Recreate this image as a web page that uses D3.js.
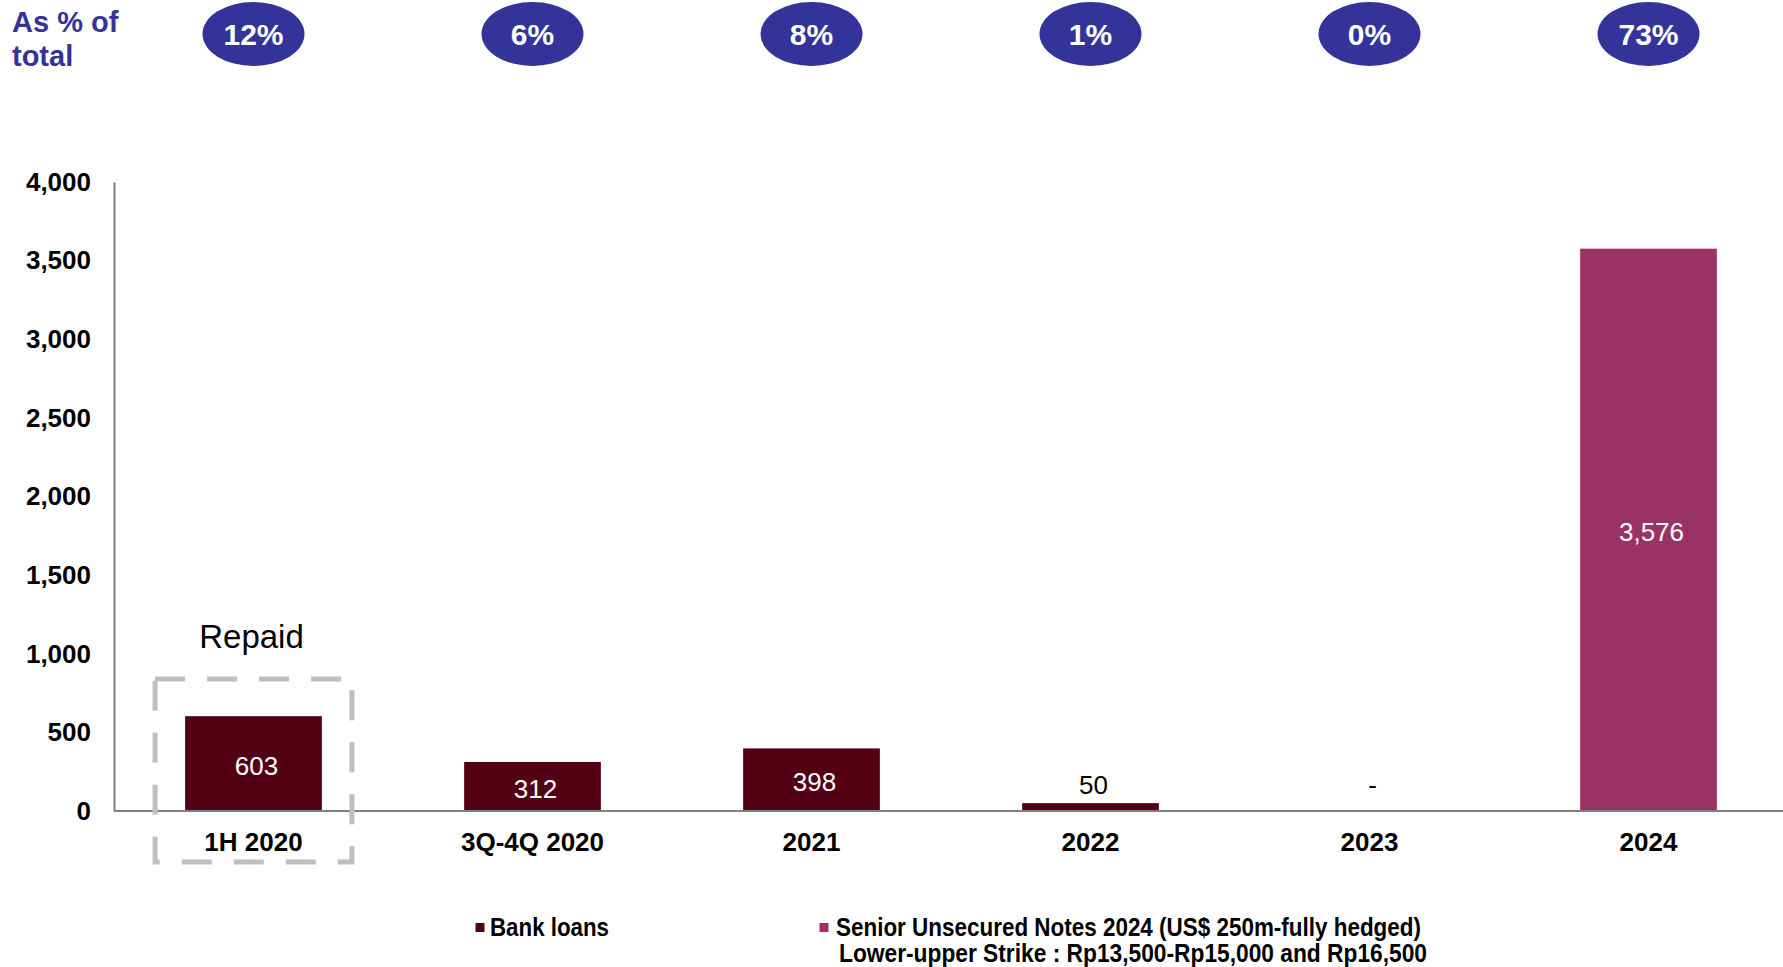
<!DOCTYPE html>
<html>
<head>
<meta charset="utf-8">
<script src="https://cdn.jsdelivr.net/npm/d3@7"></script>
<style>
  html, body { margin: 0; padding: 0; background: #fff; }
  svg { display: block; }
</style>
</head>
<body>
<svg id="chart" width="1783" height="967"></svg>
<script>
// ---- data ----
const categories = ["1H 2020", "3Q-4Q 2020", "2021", "2022", "2023", "2024"];
const bankLoans = [603, 312, 398, 50, 0, 0];
const seniorNotes = [0, 0, 0, 0, 0, 3576];
const shareOfTotal = ["12%", "6%", "8%", "1%", "0%", "73%"];
const valueLabels = ["603", "312", "398", "50", "-", "3,576"];
const yTicks = [0, 500, 1000, 1500, 2000, 2500, 3000, 3500, 4000];
const seriesNames = ["Bank loans", "Senior Unsecured Notes 2024 (US$ 250m-fully hedged)"];
const seriesNote = "Lower-upper Strike : Rp13,500-Rp15,000 and Rp16,500";
const repaidLabel = "Repaid";
const shareTitle = ["As % of", "total"];

const colors = { bank: "#540014", notes: "#993366", bubble: "#333399", axis: "#808080", dash: "#bfbfbf" };

const svg = d3.select("#chart");
const W = 1783;

const x = d3.scaleBand().domain(categories).range([114, 1788]).paddingInner(0.51).paddingOuter(0.255);
const y = d3.scaleLinear().domain([0, 4000]).range([811, 182]);

const narrow = "'Liberation Sans Narrow', 'Arial Narrow', 'Liberation Sans', Arial, sans-serif";
const sans = "'Liberation Sans', Arial, Helvetica, sans-serif";

// ---- y axis ----
const yAxis = svg.append("g").attr("transform", "translate(114,0)")
  .call(d3.axisLeft(y).tickValues(yTicks).tickSize(0).tickSizeOuter(0).tickPadding(23).tickFormat(d3.format(",")));
yAxis.select(".domain").attr("stroke", colors.axis).attr("stroke-width", 2);
yAxis.selectAll("text").attr("font-family", sans).attr("font-size", 26).attr("font-weight", "bold").attr("fill", "#000");

// ---- bars ----
const rows = categories.map((c, i) => ({ c, bank: bankLoans[i], notes: seniorNotes[i], label: valueLabels[i] }));

svg.append("g").selectAll("rect.bank").data(rows.filter(d => d.bank > 0)).join("rect")
  .attr("x", d => x(d.c)).attr("width", x.bandwidth())
  .attr("y", d => y(d.bank)).attr("height", d => y(0) - y(d.bank))
  .attr("fill", colors.bank);

svg.append("g").selectAll("rect.notes").data(rows.filter(d => d.notes > 0)).join("rect")
  .attr("x", d => x(d.c)).attr("width", x.bandwidth())
  .attr("y", d => y(d.bank + d.notes)).attr("height", d => y(d.bank) - y(d.bank + d.notes))
  .attr("fill", colors.notes);

// ---- x axis ----
const xAxis = svg.append("g").attr("transform", "translate(0,811)")
  .call(d3.axisBottom(x).tickSize(0).tickSizeOuter(0).tickPadding(22));
xAxis.select(".domain").remove();
svg.append("line").attr("x1", 114).attr("x2", W).attr("y1", y(0)).attr("y2", y(0))
  .attr("stroke", colors.axis).attr("stroke-width", 2);
xAxis.selectAll("text").attr("font-family", sans).attr("font-size", 26).attr("font-weight", "bold").attr("fill", "#000");

// ---- value labels ----
svg.append("g").selectAll("text").data(rows).join("text")
  .attr("x", d => x(d.c) + x.bandwidth() / 2 + 3)
  .attr("y", d => {
    const tot = d.bank + d.notes;
    return tot >= 200 ? (y(tot) + y(0)) / 2 + 2 : y(0) - 26;
  })
  .attr("dy", "0.35em")
  .attr("text-anchor", "middle")
  .attr("font-family", sans).attr("font-size", 26)
  .attr("fill", d => (d.bank + d.notes) >= 200 ? "#fff" : "#000")
  .text(d => d.label);

// ---- share bubbles ----
const bub = svg.append("g").selectAll("g").data(categories.map((c, i) => ({ c, s: shareOfTotal[i] }))).join("g")
  .attr("transform", d => `translate(${x(d.c) + x.bandwidth() / 2},34)`);
bub.append("ellipse").attr("rx", 51).attr("ry", 32).attr("fill", colors.bubble);
bub.append("text").attr("text-anchor", "middle").attr("dy", "0.36em")
  .attr("font-family", narrow).attr("font-weight", "bold").attr("font-size", 30).attr("fill", "#fff")
  .text(d => d.s);

// ---- "As % of total" ----
svg.append("text").attr("x", 12).attr("y", 32)
  .attr("font-family", sans).attr("font-weight", "bold").attr("font-size", 29).attr("fill", colors.bubble)
  .selectAll("tspan").data(shareTitle).join("tspan")
  .attr("x", 12).attr("dy", (d, i) => i === 0 ? 0 : 34).text(d => d);

// ---- repaid box ----
const c0 = x(categories[0]) + x.bandwidth() / 2;
const half = x.bandwidth() * 0.72;
svg.append("rect").attr("x", c0 - half).attr("y", 679).attr("width", 2 * half).attr("height", 862 - 679)
  .attr("fill", "none").attr("stroke", colors.dash).attr("stroke-width", 5).attr("stroke-dasharray", "30,22");
svg.append("text").attr("x", c0 - 2).attr("y", 648).attr("text-anchor", "middle")
  .attr("font-family", sans).attr("font-size", 33).attr("fill", "#000").text(repaidLabel);

// ---- legend ----
const leg = svg.append("g");
const legItems = [
  { name: seriesNames[0], color: colors.bank, mx: 480, tx: 490, w: 119 },
  { name: seriesNames[1], color: colors.notes, mx: 824, tx: 836, w: 585 }
];
legItems.forEach(it => {
  leg.append("rect").attr("x", it.mx - 4.5).attr("y", 923).attr("width", 9).attr("height", 9).attr("fill", it.color);
  leg.append("text").attr("x", it.tx).attr("y", 936)
    .attr("font-family", narrow).attr("font-weight", "bold").attr("font-size", 25).attr("fill", "#000")
    .attr("textLength", it.w).attr("lengthAdjust", "spacingAndGlyphs")
    .text(it.name);
});
leg.append("text").attr("x", 839).attr("y", 962)
  .attr("font-family", narrow).attr("font-weight", "bold").attr("font-size", 25).attr("fill", "#000")
  .attr("textLength", 588).attr("lengthAdjust", "spacingAndGlyphs")
  .text(seriesNote);
</script>
</body>
</html>
